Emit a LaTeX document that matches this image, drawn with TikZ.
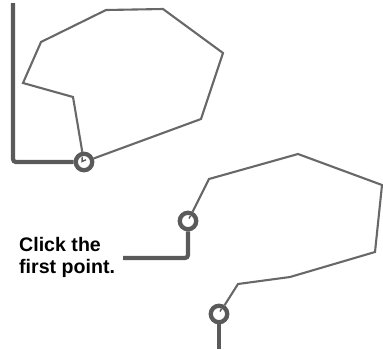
\documentclass[tikz,border=0pt]{standalone}
\usepackage{fontspec}
\setmainfont{Liberation Sans}
\definecolor{darkgr}{HTML}{5A5A5A}
\definecolor{linegr}{HTML}{686868}
\tikzset{
  pt/.style={draw=darkgr, circle, line width=4.3pt, minimum size=16.5pt, inner sep=0pt},
  lead/.style={draw=darkgr, line width=4.2pt, rounded corners=3pt},
  poly/.style={draw=linegr, line width=2.1pt, line join=miter},
  tick/.style={draw=darkgr, line width=1.4pt},
  label/.style={anchor=base west, inner sep=0pt, font=\fontsize{19.6pt}{22pt}\selectfont\bfseries}
}
\begin{document}
\begin{tikzpicture}[x=1pt,y=-1pt]
\useasboundingbox (0,0) rectangle (383,349);
% top polygon (closed)
\node[pt] (c1) at (84,162) {};
\coordinate (a1) at (73,97);
\coordinate (a2) at (23,83);
\coordinate (a3) at (41,42);
\coordinate (a4) at (106,10);
\coordinate (a5) at (163,9);
\coordinate (a6) at (223,53);
\coordinate (a7) at (201,119);
\draw[poly] (c1) -- (a1) -- (a2) -- (a3) -- (a4) -- (a5) -- (a6) -- (a7) -- (c1);
\coordinate (t1) at (13,3);
\draw[lead] (t1) |- (c1);
\draw[tick] (82.3,156.8) -- (82,161.5) -- (86,159.8);
% bottom polygon (open)
\node[pt] (c2) at (188,221) {};
\node[pt] (c3) at (219,314) {};
\coordinate (b1) at (209,179);
\coordinate (b2) at (298,154);
\coordinate (b3) at (382,185);
\coordinate (b4) at (375,252);
\coordinate (b5) at (290,277);
\coordinate (b6) at (238,284);
\draw[poly] (c2) -- (b1) -- (b2) -- (b3) -- (b4) -- (b5) -- (b6) -- (c3);
\draw[tick] (189,218.5) -- (190.5,215.8);
\draw[tick] (220,311.5) -- (221.5,308.8);
\coordinate (l2) at (123,258);
\draw[lead] (c2) |- (l2);
\coordinate (e3) at (219,349);
\draw[lead, rounded corners=0pt] (c3) -- (e3);
% label
\node[label] (txt1) at (19,251) {Click the};
\node[label] (txt2) at (19,273) {first point.};
\end{tikzpicture}
\end{document}
